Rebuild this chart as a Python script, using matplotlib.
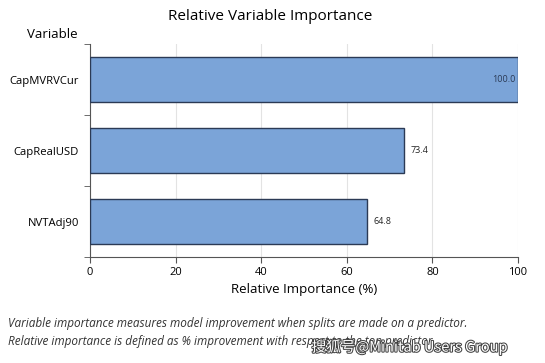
import matplotlib.pyplot as plt
import matplotlib.patheffects as pe

variables = ['CapMVRVCur', 'CapRealUSD', 'NVTAdj90']
importance = [100.0, 73.4, 64.8]
x_ticks = [0, 20, 40, 60, 80, 100]

plt.rcParams['font.family'] = ['Open Sans', 'DejaVu Sans']

fig = plt.figure(figsize=(5.45, 3.63), dpi=100)
ax = fig.add_axes([90 / 545, 1 - 257 / 363, 428 / 545, 213 / 363])

ypos = list(range(len(variables)))
ax.barh(ypos, importance, height=0.64, color='#7ba4d8', edgecolor='#2b3a55', linewidth=1.0, zorder=3)

for y, v in zip(ypos, importance):
    if v >= 99:
        ax.text(v - 0.6, y, f'{v:.1f}', va='center', ha='right', fontsize=6.5, color='#2b3a55', zorder=4)
    else:
        ax.text(v + 1.5, y, f'{v:.1f}', va='center', ha='left', fontsize=6.5, color='#222222', zorder=4)

ax.set_xlim(0, 100)
ax.set_ylim(2.5, -0.5)
ax.set_xticks(x_ticks)
ax.set_xticklabels([str(t) for t in x_ticks], fontsize=8)
ax.set_yticks(ypos)
ax.set_yticklabels(variables, fontsize=8.1)
ax.tick_params(axis='y', length=0, pad=8)
ax.set_yticks([-0.5, 0.5, 1.5, 2.5], minor=True)
ax.tick_params(axis='y', which='minor', length=4, color='#555555')
ax.tick_params(axis='x', length=4, color='#555555', pad=3)
ax.grid(axis='x', color='#e3e3e3', linewidth=0.8, zorder=0)
for s in ['top', 'right']:
    ax.spines[s].set_visible(False)
ax.spines['left'].set_color('#555555')
ax.spines['bottom'].set_color('#555555')

ax.set_xlabel('Relative Importance (%)', fontsize=9.5, labelpad=4)
fig.text(270 / 545, 1 - 16 / 363, 'Relative Variable Importance', ha='center', va='center', fontsize=11)
fig.text(78 / 545, 1 - 34 / 363, 'Variable', ha='right', va='center', fontsize=9.5)

fig.text(8 / 545, 1 - 323 / 363,
         'Variable importance measures model improvement when splits are made on a predictor.',
         ha='left', va='center', fontsize=8.5, style='italic', color='#333333')
fig.text(8 / 545, 1 - 341 / 363,
         'Relative importance is defined as % improvement with respect to the top predictor.',
         ha='left', va='center', fontsize=8.5, style='italic', color='#333333')

wm = fig.text(508 / 545, 1 - 347 / 363, '搜狐号@Minitab Users Group', ha='right', va='center',
              fontsize=10.5, color='white', family=['Noto Sans CJK SC', 'DejaVu Sans'])
wm.set_path_effects([pe.withStroke(linewidth=1.5, foreground='#444444')])

fig.savefig('out.png', dpi=100)
